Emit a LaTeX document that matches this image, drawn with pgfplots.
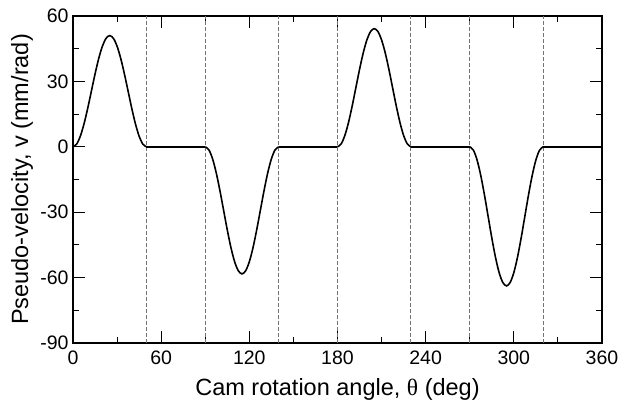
\documentclass[border=0pt]{standalone}
\usepackage{fontspec}
\setmainfont{Liberation Sans}
\newfontfamily\greekfont{Liberation Serif}
\usepackage{pgfplots}
\pgfplotsset{compat=1.18}
\begin{document}
\begin{tikzpicture}
\begin{axis}[
  scale only axis,
  width=529pt, height=327pt,
  at={(0,0)}, anchor=south west,
  xmin=0, xmax=360, ymin=-90, ymax=60,
  xtick={0,60,...,360}, ytick={-90,-60,...,60},
  minor x tick num=1, minor y tick num=1,
  tick align=inside,
  major tick length=12pt, minor tick length=6pt,
  every tick/.style={black, line width=0.9pt},
  axis line style={line width=1.1pt},
  /pgf/number format/assume math mode=true,
  ticklabel style={font=\fontsize{19.5}{22}\selectfont},
  xticklabel style={yshift=-4pt},
  yticklabel style={xshift=-1pt},
  every axis x label/.style={at={(rel axis cs:0.5,0)}, yshift=-46pt, anchor=center, font=\fontsize{23.5}{26}\selectfont},
  every axis y label/.style={at={(rel axis cs:0,0.5)}, xshift=-51pt, rotate=90, anchor=center, font=\fontsize{23.5}{26}\selectfont},
  xlabel={Cam rotation angle, {\greekfont θ} (deg)},
  ylabel={Pseudo-velocity, v (mm/rad)},
  clip=true,
]
\foreach \xv in {50,90,140,180,230,270,320} {
  \edef\temp{\noexpand\addplot[black!55, line width=1pt, dash pattern=on 4pt off 2pt, forget plot] coordinates {(\xv,-90) (\xv,60)};}
  \temp
}
\addplot[black, line width=1.6pt, smooth] coordinates {
(0,0) (2.5,1.248) (5,4.870) (7.5,10.511) (10,17.620) (12.5,25.5) (15,33.380) (17.5,40.489) (20,46.130) (22.5,49.752) (25,51)
(27.5,49.752) (30,46.130) (32.5,40.489) (35,33.380) (37.5,25.5) (40,17.620) (42.5,10.511) (45,4.870) (47.5,1.248) (50,0)
};
\addplot[black, line width=1.6pt] coordinates {(50,0) (90,0)};
\addplot[black, line width=1.6pt, smooth] coordinates {
(90,0) (92.5,-1.427) (95,-5.567) (97.5,-12.016) (100,-20.142) (102.5,-29.15) (105,-38.158) (107.5,-46.284) (110,-52.733) (112.5,-56.873) (115,-58.3)
(117.5,-56.873) (120,-52.733) (122.5,-46.284) (125,-38.158) (127.5,-29.15) (130,-20.142) (132.5,-12.016) (135,-5.567) (137.5,-1.427) (140,0)
};
\addplot[black, line width=1.6pt] coordinates {(140,0) (180,0)};
\addplot[black, line width=1.6pt, smooth] coordinates {
(180,0) (182.5,1.326) (185,5.176) (187.5,11.171) (190,18.726) (192.5,27.1) (195,35.474) (197.5,43.029) (200,49.024) (202.5,52.874) (205,54.2)
(207.5,52.874) (210,49.024) (212.5,43.029) (215,35.474) (217.5,27.1) (220,18.726) (222.5,11.171) (225,5.176) (227.5,1.326) (230,0)
};
\addplot[black, line width=1.6pt] coordinates {(230,0) (270,0)};
\addplot[black, line width=1.6pt, smooth] coordinates {
(270,0) (272.5,-1.561) (275,-6.092) (277.5,-13.150) (280,-22.042) (282.5,-31.9) (285,-41.758) (287.5,-50.650) (290,-57.708) (292.5,-62.239) (295,-63.8)
(297.5,-62.239) (300,-57.708) (302.5,-50.650) (305,-41.758) (307.5,-31.9) (310,-22.042) (312.5,-13.150) (315,-6.092) (317.5,-1.561) (320,0)
};
\addplot[black, line width=1.6pt] coordinates {(320,0) (360,0)};
\end{axis}
\pgfresetboundingbox
\path[use as bounding box] (-73pt,-63pt) rectangle (557pt,343pt);
\end{tikzpicture}
\end{document}
